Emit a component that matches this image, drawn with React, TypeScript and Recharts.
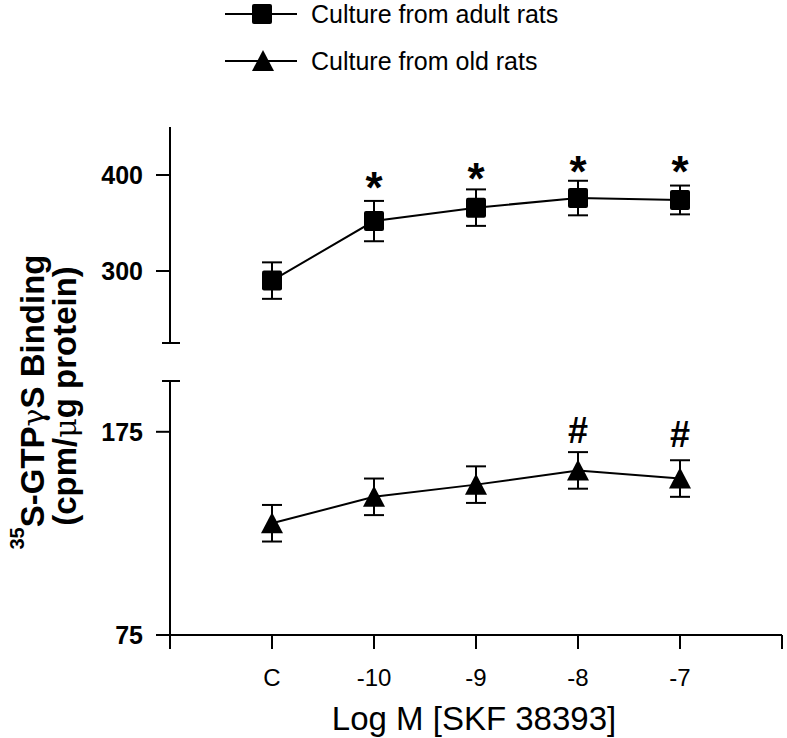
import React from 'react';
import { LineChart, Line, XAxis, YAxis, ErrorBar, Legend, LabelList } from 'recharts';

const FONT = "'Liberation Sans', Arial, Helvetica, sans-serif";

// categories on the x axis (positions 1..5 on a 0..6 numeric axis)
const categories = ['C', '-10', '-9', '-8', '-7'];
const positions = [1, 2, 3, 4, 5];
const xTicks = [0, 1, 2, 3, 4, 5, 6];
const xTickLabels = ['', 'C', '-10', '-9', '-8', '-7', ''];

// series
const seriesNames = ['Culture from adult rats', 'Culture from old rats'];
const adultMean = [290, 352, 366, 376, 374];
const adultSE = [19, 21, 19, 18, 15];
const oldMean = [130, 143, 149, 156, 152];
const oldSE = [9, 9, 9, 9, 9];

// significance marks and where they sit (data units)
const adultSig = ['', '*', '*', '*', '*'];
const adultSigPos = [null, 396, 405, 413, 413];
const oldSig = ['', '', '', '#', '#'];
const oldSigPos = [null, null, null, 176, 174];

// y axis segments
const upperDomain = [225, 450];
const upperTicks = [225, 300, 400];
const upperCap = 225;
const lowerDomain = [75, 200];
const lowerTicks = [75, 175, 200];
const lowerCap = 200;

const data = categories.map((c, i) => ({
  cat: c,
  pos: positions[i],
  adult: adultMean[i],
  adultSE: adultSE[i],
  old: oldMean[i],
  oldSE: oldSE[i],
  adultSig: adultSig[i],
  adultSigPos: adultSigPos[i],
  oldSig: oldSig[i],
  oldSigPos: oldSigPos[i],
}));

const TICK_SIZE = 14;
const TICK_MARGIN = 13;

const makeYTick = (cap: number) => (props: any) => {
  const { x, y, payload } = props;
  const axisX = x + TICK_SIZE + TICK_MARGIN;
  if (payload.value === cap) {
    return <line x1={axisX - 8} x2={axisX + 10} y1={y} y2={y} stroke="#000" strokeWidth={2} />;
  }
  return (
    <g>
      <line x1={axisX - TICK_SIZE} x2={axisX} y1={y} y2={y} stroke="#000" strokeWidth={2} />
      <text x={x} y={y} dy={9} textAnchor="end" fontSize={25} fontWeight="bold" fontFamily={FONT} fill="#000">
        {payload.value}
      </text>
    </g>
  );
};

const SquareDot = (props: any) => {
  const { cx, cy } = props;
  if (cx == null || cy == null) return <g />;
  return <rect x={cx - 10} y={cy - 10} width={20} height={20} rx={2} fill="#000" />;
};

const TriangleDot = (props: any) => {
  const { cx, cy } = props;
  if (cx == null || cy == null) return <g />;
  return <polygon points={`${cx},${cy - 11} ${cx + 11},${cy + 10} ${cx - 11},${cy + 10}`} fill="#000" />;
};

const SigLabel = (fontSize: number, baseShift: number) => (props: any) => {
  const { x, y, value } = props;
  if (!value || y == null || isNaN(y)) return null;
  return (
    <text x={x} y={y + baseShift} textAnchor="middle" fontSize={fontSize} fontWeight="bold" fontFamily={FONT} fill="#000">
      {value}
    </text>
  );
};

const renderLegend = () => (
  <svg width={400} height={80} style={{ display: 'block' }}>
    <line x1={5} x2={77} y1={14} y2={14} stroke="#000" strokeWidth={2} />
    <rect x={32} y={4} width={20} height={20} rx={2} fill="#000" />
    <text x={91} y={23} fontSize={25} fontFamily={FONT} fill="#000">{seriesNames[0]}</text>
    <line x1={5} x2={77} y1={61} y2={61} stroke="#000" strokeWidth={2} />
    <polygon points="43,50 54,71 32,71" fill="#000" />
    <text x={91} y={70} fontSize={25} fontFamily={FONT} fill="#000">{seriesNames[1]}</text>
  </svg>
);

const YTitle = () => (
  <g>
    <text transform="rotate(-90)" x={-402} y={44} textAnchor="middle" fontSize={33} fontWeight="bold" fontFamily={FONT} fill="#000">
      <tspan fontSize={20} dy={-20}>35</tspan>
      <tspan dy={20}>S-GTP</tspan>
      <tspan fontWeight="normal" fontFamily="'DejaVu Serif', serif" fontSize={30}>γ</tspan>
      <tspan>S Binding</tspan>
    </text>
    <text transform="rotate(-90)" x={-396} y={76} textAnchor="middle" fontSize={33} fontWeight="bold" fontFamily={FONT} fill="#000">
      <tspan>(cpm/</tspan>
      <tspan fontWeight="normal" fontFamily="'DejaVu Serif', serif" fontSize={30}>μ</tspan>
      <tspan>g protein)</tspan>
    </text>
  </g>
);

const XTitle = (props: any) => {
  const vb = props.viewBox || { x: 170, y: 635, width: 612 };
  return (
    <text x={vb.x + vb.width / 2 - 2} y={vb.y + 95} textAnchor="middle" fontSize={33} fontFamily={FONT} fill="#000">
      Log M [SKF 38393]
    </text>
  );
};

const W = 787;
const H = 738;

export default function App() {
  return (
    <div style={{ position: 'absolute', left: 0, top: 0, width: W, height: H, background: '#fff' }}>
      <div style={{ position: 'absolute', left: 0, top: 0 }}>
        <LineChart width={W} height={H} data={data} margin={{ top: 127, right: 5, bottom: 395, left: 110 }}>
          <XAxis dataKey="pos" type="number" domain={[0, 6]} ticks={xTicks} hide />
          <YAxis
            type="number"
            domain={upperDomain}
            ticks={upperTicks}
            width={60}
            tickSize={TICK_SIZE}
            tickMargin={TICK_MARGIN}
            tickLine={false}
            axisLine={{ stroke: '#000', strokeWidth: 2 }}
            tick={makeYTick(upperCap)}
            interval={0}
          />
          <Legend
            layout="horizontal"
            verticalAlign="middle"
            align="center"
            content={renderLegend}
            wrapperStyle={{ position: 'absolute', top: 0, left: 220, width: 400, height: 80 }}
          />
          <Line
            dataKey="adult"
            name={seriesNames[0]}
            stroke="#000"
            strokeWidth={2}
            dot={<SquareDot />}
            activeDot={false}
            isAnimationActive={false}
          >
            <ErrorBar dataKey="adultSE" direction="y" width={10} stroke="#000" strokeWidth={2} />
          </Line>
          <Line
            dataKey="adultSigPos"
            stroke="none"
            dot={false}
            activeDot={false}
            isAnimationActive={false}
            legendType="none"
          >
            <LabelList dataKey="adultSig" content={SigLabel(44, 24)} />
          </Line>
        </LineChart>
      </div>
      <div style={{ position: 'absolute', left: 0, top: 0 }}>
        <LineChart width={W} height={H} data={data} margin={{ top: 381, right: 5, bottom: 3, left: 110 }}>
          <XAxis
            dataKey="pos"
            type="number"
            domain={[0, 6]}
            ticks={xTicks}
            interval={0}
            height={100}
            tickSize={14}
            tickMargin={20}
            axisLine={{ stroke: '#000', strokeWidth: 2 }}
            tickLine={{ stroke: '#000', strokeWidth: 2 }}
            tick={{ fontSize: 24, fill: '#000', fontFamily: FONT }}
            tickFormatter={(v: number) => xTickLabels[v] ?? ''}
            label={{ content: XTitle }}
          />
          <YAxis
            type="number"
            domain={lowerDomain}
            ticks={lowerTicks}
            width={60}
            tickSize={TICK_SIZE}
            tickMargin={TICK_MARGIN}
            tickLine={false}
            axisLine={{ stroke: '#000', strokeWidth: 2 }}
            tick={makeYTick(lowerCap)}
            interval={0}
            label={{ content: YTitle }}
          />
          <Line
            dataKey="old"
            name={seriesNames[1]}
            stroke="#000"
            strokeWidth={2}
            dot={<TriangleDot />}
            activeDot={false}
            isAnimationActive={false}
          >
            <ErrorBar dataKey="oldSE" direction="y" width={10} stroke="#000" strokeWidth={2} />
          </Line>
          <Line
            dataKey="oldSigPos"
            stroke="none"
            dot={false}
            activeDot={false}
            isAnimationActive={false}
            legendType="none"
          >
            <LabelList dataKey="oldSig" content={SigLabel(36, 13)} />
          </Line>
        </LineChart>
      </div>
    </div>
  );
}
